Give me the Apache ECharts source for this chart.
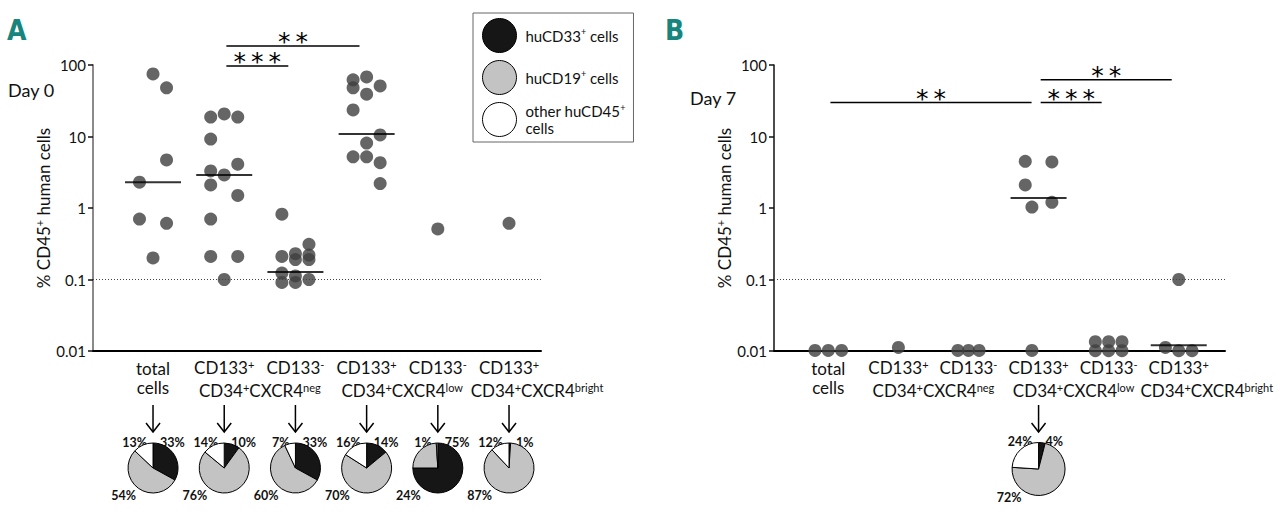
<!DOCTYPE html>
<html><head><meta charset="utf-8">
<script src="https://cdn.jsdelivr.net/npm/echarts@6/dist/echarts.min.js"></script>
<style>html,body{margin:0;padding:0;background:#fff}#c{width:1280px;height:515px}</style>
</head><body><div id="c"></div>
<script>
// ---------------- DATA ----------------
const categories = ['total cells', 'CD133+ CD34+CXCR4neg', 'CD133- CD34+CXCR4neg', 'CD133+ CD34+CXCR4low', 'CD133- CD34+CXCR4low', 'CD133+ CD34+CXCR4bright'];
const yTicks = [0.01, 0.1, 1, 10, 100];

// Day 0: % CD45+ human cells per mouse, per category
const day0Values = [
  [75, 48, 4.7, 2.3, 0.7, 0.61, 0.2],
  [20.7, 18.7, 18.7, 9.2, 4.1, 3.3, 2.9, 2.1, 1.5, 0.7, 0.21, 0.21, 0.1],
  [0.82, 0.31, 0.21, 0.23, 0.19, 0.22, 0.19, 0.123, 0.112, 0.091, 0.091, 0.1],
  [68, 62, 51, 48, 39, 23.5, 10.5, 8.1, 5.2, 5.2, 4.3, 2.2],
  [0.51],
  [0.61]
];
// horizontal column of each dot inside its category (-1 left, 0 centre, 1 right)
const day0Slots = [
  [0, 1, 1, -1, -1, 1, 0],
  [0, -1, 1, -1, 1, -1, 0, -1, 1, -1, -1, 1, 0],
  [-1, 1, -1, 0, 0, 1, 1, -1, 0, -1, 0, 1],
  [0, -1, 1, -1, 0, -1, 1, 0, -1, 0, 1, 1],
  [0],
  [0]
];
const day0Medians = [2.3, 2.9, 0.127, 10.8, null, null];

// Day 7
const day7Values = [
  [0.0102, 0.0102, 0.0102],
  [0.0112],
  [0.0102, 0.0102, 0.0102],
  [4.5, 4.4, 2.1, 1.03, 1.2, 0.0102],
  [0.0135, 0.0135, 0.0135, 0.0101, 0.0101, 0.0101],
  [0.1, 0.0112, 0.0101, 0.0101]
];
const day7Slots = [
  [-1, 0, 1],
  [0],
  [-0.8, 0, 0.8],
  [-1, 1, -1, -0.5, 1, -0.5],
  [-1, 0, 1, -1, 0, 1],
  [0, -1, 0, 1]
];
const day7Medians = [null, null, null, 1.38, null, 0.012];

// significance brackets (from category, to category, label, level in % units)
const day0Comparisons = [
  { from: 1, to: 2, label: '***', level: 97 },
  { from: 1, to: 3, label: '**', level: 185 }
];
const day7Comparisons = [
  { from: 0, to: 3, label: '**', level: 30 },
  { from: 3, to: 4, label: '***', level: 30 },
  { from: 3, to: 5, label: '**', level: 62 }
];

// pie composition: [huCD33+, huCD19+, other huCD45+] in %
const pieNames = ['huCD33+ cells', 'huCD19+ cells', 'other huCD45+ cells'];
const day0Pies = [[33, 54, 13], [10, 76, 14], [33, 60, 7], [14, 70, 16], [75, 24, 1], [1, 87, 12]];
const day7Pies = [[4, 72, 24]];
const day7PieCategories = [3];

// ---------------- STYLE / LAYOUT ----------------
const FONT = 'Lato, "Open Sans", sans-serif';
const pieColors = ['#161616', '#c3c3c3', '#ffffff'];
const JIT = 0.19;
function richFor(size) {
  return {
    n: { fontSize: size, fontFamily: FONT, color: '#111', lineHeight: Math.round(size * 1.15) },
    s: { fontSize: Math.round(size * 0.62), verticalAlign: 'top', lineHeight: Math.round(size * 0.7), fontFamily: FONT, color: '#111' }
  };
}
function toRich(str) {
  return str.replace(/CXCR4(\w+)$/, 'CXCR4\u0001$1\u0002')
            .replace(/([0-9])([+\-])/g, '$1{s|$2}')
            .replace('\u0001', '{s|').replace('\u0002', '}');
}
function dotData(values, slots) {
  return values.flatMap((vals, ci) => vals.map((v, j) => [ci + slots[ci][j] * JIT, v]));
}
function medianData(meds) {
  return meds.map((m, ci) => (m == null ? null : [ci, m])).filter(Boolean);
}
function fmt(v) {
  const t = yTicks.find(t => Math.abs(Math.log10(t) - Math.log10(v)) < 1e-6);
  return t === undefined ? '' : String(t);
}

const chart = echarts.init(document.getElementById('c'), null, { renderer: 'svg', width: 1280, height: 515 });

function yAxisCfg(gi, color, width) {
  return {
    type: 'log', logBase: 10, gridIndex: gi, min: 0.01, max: 100,
    axisLine: { show: true, onZero: false, lineStyle: { color: color, width: width } },
    axisTick: { show: true, length: 5, lineStyle: { color: '#111', width: 1.5 } },
    axisLabel: { color: '#111', fontSize: 15, fontFamily: FONT, margin: 7, formatter: fmt },
    splitLine: { show: false },
    name: '{n|% CD45}{s|+}{n| human cells}', nameLocation: 'middle', nameGap: 38, nameRotate: 90,
    nameTextStyle: { fontSize: 17, color: '#111', fontFamily: FONT, rich: richFor(17) }
  };
}
function xAxisCfg(gi, min, max) {
  return {
    type: 'value', gridIndex: gi, min: min, max: max,
    axisLine: { show: true, onZero: false, lineStyle: { color: '#000', width: 2 } },
    axisTick: { show: false }, axisLabel: { show: false }, splitLine: { show: false }
  };
}
function dotSeries(ai, values, slots) {
  return {
    type: 'scatter', xAxisIndex: ai, yAxisIndex: ai, data: dotData(values, slots),
    symbolSize: 13, itemStyle: { color: '#3f3f3f' }, clip: false, silent: true, z: 3,
    markLine: {
      silent: true, symbol: 'none', label: { show: false },
      lineStyle: { type: [1, 2], color: '#444', width: 1 },
      data: [{ yAxis: 0.1 }]
    }
  };
}
function medianSeries(ai, meds) {
  return {
    type: 'scatter', xAxisIndex: ai, yAxisIndex: ai, data: medianData(meds),
    symbol: 'rect', symbolSize: [56, 2], itemStyle: { color: '#000' }, clip: false, silent: true, z: 4
  };
}
function compSeries(ai, comps) {
  return {
    type: 'custom', xAxisIndex: ai, yAxisIndex: ai, clip: false, silent: true, z: 5,
    data: comps.map(c => [c.from, c.level, c.to]),
    encode: { x: 0, y: 1 },
    renderItem: function (params, api) {
      const c = comps[params.dataIndex];
      const p1 = api.coord([c.from + 0.03, c.level]);
      const p2 = api.coord([c.to - 0.1, c.level]);
      return {
        type: 'group', children: [
          { type: 'line', shape: { x1: p1[0], y1: p1[1], x2: p2[0], y2: p2[1] }, style: { stroke: '#000', lineWidth: 1.5 } },
          { type: 'text', x: (p1[0] + p2[0]) / 2, y: p1[1] - 4,
            style: { text: c.label.split('').join('\u2009'), fill: '#000', fontSize: 25, fontFamily: 'DejaVu Sans', align: 'center', verticalAlign: 'middle' } }
        ]
      };
    }
  };
}

const baseOption = {
  animation: false,
  backgroundColor: '#fff',
  textStyle: { fontFamily: FONT },
  grid: [
    { left: 93, top: 65, width: 448, height: 286 },
    { left: 774, top: 65, width: 451, height: 286 }
  ],
  xAxis: [xAxisCfg(0, -0.843, 5.449), xAxisCfg(1, -0.775, 5.66)],
  yAxis: [yAxisCfg(0, '#8a8a8a', 2), yAxisCfg(1, '#111', 1.5)],
  series: [
    dotSeries(0, day0Values, day0Slots), medianSeries(0, day0Medians), compSeries(0, day0Comparisons),
    dotSeries(1, day7Values, day7Slots), medianSeries(1, day7Medians), compSeries(1, day7Comparisons)
  ]
};
chart.setOption(baseOption);

// ---------- pies, category labels, arrows (placed from the axis scale) ----------
const px = (ai, ci) => chart.convertToPixel({ xAxisIndex: ai }, ci);
const graphics = [];
const pieSeries = [];
const catRich = richFor(17);

function addCategoryLabels(ai) {
  const cx = categories.map((_, ci) => px(ai, ci));
  const groups = {};
  categories.forEach((cat, ci) => {
    const parts = cat.split(' ');
    if (ci === 0) {
      graphics.push({ type: 'text', x: cx[ci], y: 368, style: { text: parts[0], fontSize: 17, fontFamily: FONT, fill: '#111', align: 'center', verticalAlign: 'middle' } });
      graphics.push({ type: 'text', x: cx[ci], y: 387, style: { text: parts[1], fontSize: 17, fontFamily: FONT, fill: '#111', align: 'center', verticalAlign: 'middle' } });
      return;
    }
    graphics.push({ type: 'text', x: cx[ci], y: 367, style: { text: toRich(parts[0]), fontSize: 17, fontFamily: FONT, fill: '#111', align: 'center', verticalAlign: 'middle', rich: catRich } });
    (groups[parts[1]] = groups[parts[1]] || []).push(ci);
  });
  Object.keys(groups).forEach(k => {
    const idx = groups[k];
    let x = idx.reduce((a, ci) => a + cx[ci], 0) / idx.length;
    if (idx.length === 1) x += 28;
    graphics.push({ type: 'text', x: x, y: 390, style: { text: toRich(k), fontSize: 17, fontFamily: FONT, fill: '#111', align: 'center', verticalAlign: 'middle', rich: catRich } });
  });
}

function addPie(ai, ci, comp, r, cy) {
  const cx = px(ai, ci);
  pieSeries.push({
    type: 'pie', center: [cx, cy], radius: r, startAngle: 90, clockwise: true, silent: true,
    label: { show: false }, labelLine: { show: false }, emphasis: { disabled: true },
    itemStyle: { borderColor: '#000', borderWidth: 1 },
    data: pieNames.map((n, k) => ({ name: n, value: comp[k], itemStyle: { color: pieColors[k] } }))
  });
  // arrow
  graphics.push({ type: 'line', shape: { x1: cx, y1: 405, x2: cx, y2: 432 }, style: { stroke: '#000', lineWidth: 1.5 } });
  graphics.push({ type: 'polyline', shape: { points: [[cx - 7, 423], [cx, 432], [cx + 7, 423]] }, style: { stroke: '#000', lineWidth: 1.5, fill: null } });
  const lab = { fontSize: 12.5, fontWeight: 'bold', fontFamily: FONT, fill: '#111', verticalAlign: 'middle' };
  graphics.push({ type: 'text', x: cx - 6, y: cy - r - 1, style: Object.assign({ text: comp[2] + '%', align: 'right' }, lab) });
  graphics.push({ type: 'text', x: cx + 7, y: cy - r - 1, style: Object.assign({ text: comp[0] + '%', align: 'left' }, lab) });
  graphics.push({ type: 'text', x: cx - 17, y: cy + r + 2, style: Object.assign({ text: comp[1] + '%', align: 'right' }, lab) });
}

addCategoryLabels(0);
addCategoryLabels(1);
day0Pies.forEach((comp, ci) => addPie(0, ci, comp, 25, 468));
day7Pies.forEach((comp, i) => addPie(1, day7PieCategories[i], comp, 26.5, 469));

// panel letters & day labels
graphics.push({ type: 'text', x: 7, y: 30, style: { text: 'A', fontSize: 28, fontWeight: 'bold', fontFamily: '"Liberation Sans Narrow", "DejaVu Sans Condensed", "Open Sans"', fill: '#17857d', verticalAlign: 'middle' } });
graphics.push({ type: 'text', x: 665, y: 30, style: { text: 'B', fontSize: 28, fontWeight: 'bold', fontFamily: '"Liberation Sans Narrow", "DejaVu Sans Condensed", "Open Sans"', fill: '#17857d', verticalAlign: 'middle' } });
graphics.push({ type: 'text', x: 8, y: 90, style: { text: 'Day 0', fontSize: 18, fontFamily: FONT, fill: '#111', verticalAlign: 'middle' } });
graphics.push({ type: 'text', x: 690, y: 98, style: { text: 'Day 7', fontSize: 18, fontFamily: FONT, fill: '#111', verticalAlign: 'middle' } });

chart.setOption({
  legend: {
    data: pieNames, orient: 'vertical', left: 473, top: 13, icon: 'circle',
    itemWidth: 34, itemHeight: 34, itemGap: 7, selectedMode: false,
    padding: [5, 8, 5, 9], borderColor: '#666', borderWidth: 1,
    itemStyle: { borderColor: '#000', borderWidth: 1 },
    formatter: n => n.replace(/^(.*?\d)\+(.*)$/, '{n|$1}{s|+}{n|$2}').replace('{n|other huCD45}{s|+}{n| cells}', '{n|other huCD45}{s|+}\n{n|cells}'),
    textStyle: { fontSize: 15, fontFamily: FONT, color: '#111', padding: [0, 0, 0, 4], rich: richFor(15) }
  },
  series: baseOption.series.concat(pieSeries),
  graphic: graphics
});
</script>
</body></html>
